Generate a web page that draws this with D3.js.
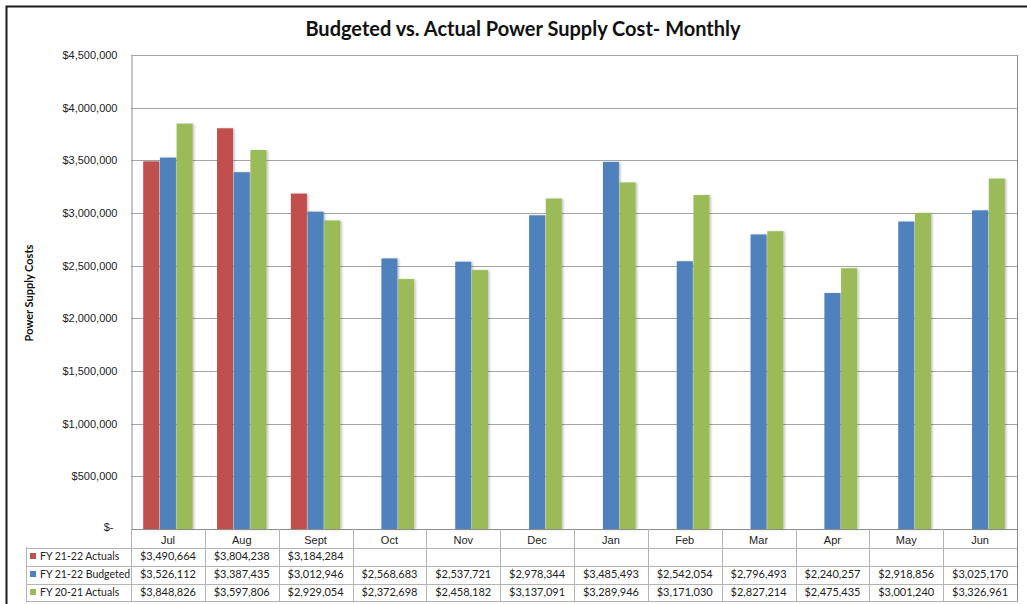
<!DOCTYPE html>
<html lang="en">
<head>
<meta charset="utf-8">
<title>Budgeted vs. Actual Power Supply Cost</title>
<script src="https://cdn.jsdelivr.net/npm/d3@7/dist/d3.min.js"></script>
<style>
  body { margin: 0; background: #fff; }
  svg { display: block; font-family: Lato, "Liberation Sans", sans-serif; }
  .axis text { font-size: 11px; fill: #222; }
  .grid line { stroke: #a6a6a6; }
  .cell text { font-size: 11px; fill: #222; }
  .cell text.legend { font-size: 10.5px; }
</style>
</head>
<body>
<script>
// data
var months = ["Jul", "Aug", "Sept", "Oct", "Nov", "Dec", "Jan", "Feb", "Mar", "Apr", "May", "Jun"];
var seriesNames = ["FY 21-22 Actuals", "FY 21-22 Budgeted", "FY 20-21 Actuals"];
var actuals2122 = [3490664, 3804238, 3184284, null, null, null, null, null, null, null, null, null];
var budgeted2122 = [3526112, 3387435, 3012946, 2568683, 2537721, 2978344, 3485493, 2542054, 2796493, 2240257, 2918856, 3025170];
var actuals2021 = [3848826, 3597806, 2929054, 2372698, 2458182, 3137091, 3289946, 3171030, 2827214, 2475435, 3001240, 3326961];
var yTickValues = [0, 500000, 1000000, 1500000, 2000000, 2500000, 3000000, 3500000, 4000000, 4500000];
var seriesColors = ["#C0504D", "#4F81BD", "#9BBB59"];

var seriesValues = [actuals2122, budgeted2122, actuals2021];

var w = 1027, h = 604;
var plotLeft = 131, plotRight = 1017, plotTop = 55, plotBottom = 529;
var rowH = 18;

var svg = d3.select("body").append("svg")
    .attr("width", w)
    .attr("height", h);

var defs = svg.append("defs");
var shadow = defs.append("filter").attr("id", "shadow")
    .attr("x", "-20%").attr("y", "-5%").attr("width", "150%").attr("height", "115%");
shadow.append("feDropShadow")
    .attr("dx", 1.5).attr("dy", 0.5).attr("stdDeviation", 1)
    .attr("flood-color", "#000").attr("flood-opacity", 0.25);

// outer frame
svg.append("path")
    .attr("d", "M6.5," + h + "V6.5H" + w)
    .attr("fill", "none")
    .attr("stroke", "#1a1a1a")
    .attr("stroke-width", 2);

var x0 = d3.scaleBand()
    .domain(months)
    .range([plotLeft, plotRight])
    .padding(0);

var x1 = d3.scaleBand()
    .domain(seriesNames)
    .range([0, x0.bandwidth()])
    .paddingInner(0.04)
    .paddingOuter(0.73);

var y = d3.scaleLinear()
    .domain([0, 4500000])
    .range([plotBottom, plotTop]);

// gridlines
svg.append("g")
    .attr("class", "grid")
    .selectAll("line")
    .data(yTickValues.slice(1))
    .enter().append("line")
    .attr("x1", plotLeft).attr("x2", plotRight)
    .attr("y1", function (d) { return Math.round(y(d)) + 0.5; })
    .attr("y2", function (d) { return Math.round(y(d)) + 0.5; });

// plot frame (right side)
svg.append("line")
    .attr("x1", plotRight + 0.5).attr("x2", plotRight + 0.5)
    .attr("y1", plotTop).attr("y2", plotBottom)
    .attr("stroke", "#8c8c8c");

// y axis
var yAxis = d3.axisLeft(y)
    .tickValues(yTickValues)
    .tickSize(0)
    .tickPadding(14)
    .tickFormat(function (d) { return d === 0 ? "$-" : "$" + d3.format(",")(d); });

var gy = svg.append("g")
    .attr("class", "axis")
    .attr("transform", "translate(" + (plotLeft + 0.5) + ",0)")
    .call(yAxis);
gy.select(".domain").attr("stroke", "#8c8c8c");
gy.selectAll(".tick text")
    .filter(function (d) { return d === 0; })
    .attr("dx", "-4px")
    .attr("dy", "0.1em");

// bars
var groups = svg.append("g")
    .selectAll("g")
    .data(months)
    .enter().append("g")
    .attr("transform", function (d) { return "translate(" + x0(d) + ",0)"; });

groups.selectAll("rect")
    .data(function (m, i) {
      return seriesNames.map(function (s, j) {
        return { series: s, value: seriesValues[j][i], color: seriesColors[j] };
      }).filter(function (d) { return d.value != null; });
    })
    .enter().append("rect")
    .attr("x", function (d) { return x1(d.series); })
    .attr("y", function (d) { return y(d.value); })
    .attr("width", x1.bandwidth())
    .attr("height", function (d) { return plotBottom - y(d.value); })
    .attr("fill", function (d) { return d.color; })
    .attr("filter", "url(#shadow)");

// data table under the plot
var table = svg.append("g").attr("class", "cell");
var tableLeft = 26;
var lineColor = "#b4b4b4";

// category row labels
var xAxis = d3.axisBottom(x0).tickSize(0).tickPadding(7);
var gx = svg.append("g")
    .attr("class", "axis")
    .attr("transform", "translate(0," + plotBottom + ")")
    .call(xAxis);
gx.select(".domain").remove();

// horizontal lines
var rowTops = [plotBottom, plotBottom + rowH + 0.5, plotBottom + 2 * rowH + 0.5, plotBottom + 3 * rowH + 0.5, plotBottom + 4 * rowH];
rowTops.forEach(function (ry, i) {
  table.append("line")
    .attr("x1", i === 0 ? plotLeft : tableLeft).attr("x2", plotRight + 1)
    .attr("y1", Math.round(ry) + 0.5).attr("y2", Math.round(ry) + 0.5)
    .attr("stroke", i === 0 ? "#8c8c8c" : lineColor);
});

// vertical lines
var bounds = months.map(function (m) { return x0(m); }).concat([plotRight]);
bounds.forEach(function (bx, i) {
  table.append("line")
    .attr("x1", Math.round(bx) + 0.5).attr("x2", Math.round(bx) + 0.5)
    .attr("y1", plotBottom).attr("y2", plotBottom + 4 * rowH + 0.5)
    .attr("stroke", i === bounds.length - 1 ? "#8c8c8c" : lineColor);
});
table.append("line")
  .attr("x1", tableLeft + 0.5).attr("x2", tableLeft + 0.5)
  .attr("y1", plotBottom + rowH).attr("y2", plotBottom + 4 * rowH + 0.5)
  .attr("stroke", lineColor);

seriesNames.forEach(function (s, j) {
  var cy = plotBottom + rowH * (j + 1) + rowH / 2;
  table.append("rect")
    .attr("x", 30).attr("y", cy - 3)
    .attr("width", 6).attr("height", 6)
    .attr("fill", seriesColors[j]);
  table.append("text")
    .attr("class", "legend")
    .attr("x", 40).attr("y", cy)
    .attr("dy", "0.36em")
    .text(s);
  table.selectAll(null)
    .data(seriesValues[j])
    .enter().append("text")
    .attr("x", function (d, i) { return x0(months[i]) + x0.bandwidth() / 2; })
    .attr("y", cy)
    .attr("dy", "0.36em")
    .attr("text-anchor", "middle")
    .text(function (d) { return d == null ? "" : "$" + d3.format(",")(d); });
});

// title
svg.append("text")
    .attr("x", 523)
    .attr("y", 36)
    .attr("text-anchor", "middle")
    .style("font-size", "20px")
    .style("font-weight", "bold")
    .style("fill", "#111")
    .text("Budgeted vs. Actual Power Supply Cost- Monthly");

// y axis title
svg.append("text")
    .attr("transform", "translate(33,293) rotate(-90)")
    .attr("text-anchor", "middle")
    .style("font-size", "11px")
    .style("font-weight", "bold")
    .style("fill", "#111")
    .text("Power Supply Costs");
</script>
</body>
</html>
